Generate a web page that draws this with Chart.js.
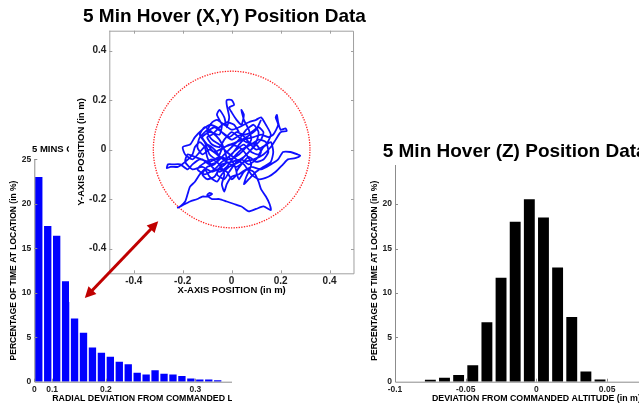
<!DOCTYPE html>
<html>
<head>
<meta charset="utf-8">
<script src="https://cdn.jsdelivr.net/npm/chart.js@4.4.1/dist/chart.umd.min.js"></script>
<style>
html, body { margin: 0; padding: 0; background: #fff; }
body { width: 639px; height: 406px; position: relative; overflow: hidden; }
.panel { position: absolute; overflow: hidden; }
#radialBox { left: 0; top: 135px; width: 232px; height: 271px; z-index: 1; }
#altBox { left: 360px; top: 135px; width: 279px; height: 271px; z-index: 1; }
#xyBox { left: 69px; top: 0; width: 300px; height: 302px; z-index: 2; }
</style>
</head>
<body>
<div class="panel" id="radialBox"><canvas id="radialChart" width="320" height="271"></canvas></div>
<div class="panel" id="altBox"><canvas id="altChart" width="330" height="271"></canvas></div>
<div class="panel" id="xyBox"><canvas id="xyChart" width="300" height="302"></canvas></div>
<script>
// radial deviation histogram, equal-area bins (x axis runs in r^2)
const radialBinCenters = [0.0025, 0.0075, 0.0125, 0.0175, 0.0225, 0.0275, 0.0325, 0.0375, 0.0425, 0.0475,
    0.0525, 0.0575, 0.0625, 0.0675, 0.0725, 0.0775, 0.0825, 0.0875, 0.0925, 0.0975, 0.1025];
const radialPercent = [23.0, 17.5, 16.4, 11.3, 7.1, 5.5, 3.85, 3.25, 2.8, 2.25,
    1.95, 1.0, 0.8, 1.3, 0.9, 0.8, 0.65, 0.37, 0.25, 0.25, 0.15];
const radialTickValues = [0, 0.1, 0.2, 0.3];
const radialTickLabels = ['0', '0.1', '0.2', '0.3'];

// altitude (Z) deviation histogram
const altitudeBins = [-0.075, -0.065, -0.055, -0.045, -0.035, -0.025, -0.015, -0.005, 0.005, 0.015, 0.025, 0.035, 0.045];
const altitudePercent = [0.22, 0.45, 0.75, 1.85, 6.7, 11.7, 18.0, 20.55, 18.5, 12.85, 7.3, 1.15, 0.25];
const altitudeTicks = [-0.1, -0.05, 0, 0.05, 0.1];
const percentTicks = [0, 5, 10, 15, 20, 25];

// (X,Y) hover track, in m
const hoverX = [0.12, 0.10, 0.06, 0.02, -0.03, -0.07, -0.10, -0.12, -0.09, -0.05,
    -0.04, -0.06, -0.05, -0.03, -0.02, -0.01, -0.02, -0.02, 0.00, 0.01,
    -0.01, 0.00, 0.02, 0.04, 0.05, 0.04, 0.05, 0.07, 0.08, 0.06,
    0.03, -0.01, -0.05, -0.09, -0.13, -0.16, -0.18, -0.21, -0.24, -0.26,
    -0.265, -0.25, -0.22, -0.19, -0.16, -0.15, -0.13, -0.11, -0.10, -0.08,
    -0.05, -0.02, 0.01, 0.04, 0.08, 0.11, 0.14, 0.15, 0.13, 0.10,
    0.07, 0.04, 0.02, 0.03, 0.05, 0.08, 0.12, 0.16, 0.19, 0.21,
    0.24, 0.27, 0.28, 0.26, 0.23, 0.21, 0.18, 0.15, 0.11, 0.08,
    0.05, 0.02, -0.02, -0.05, -0.08, -0.10, -0.07, -0.04, -0.01, 0.02,
    0.05, 0.08, 0.11, 0.13, 0.12, 0.09, 0.06, 0.03, -0.01, -0.04,
    -0.06, -0.09, -0.11, -0.13, -0.15, -0.17, -0.18, -0.19, -0.21, -0.22,
    -0.20, -0.17, -0.14, -0.12, -0.10, -0.08, -0.09, -0.10, -0.08, -0.05,
    -0.02, 0.01, 0.04, 0.07, 0.10, 0.13, 0.16, 0.155, 0.14, 0.12,
    0.11, 0.09, 0.06, 0.03, 0.00, -0.02, -0.03, -0.04, -0.03, -0.05,
    -0.08, -0.12, -0.14, -0.11, -0.07, -0.04, 0.00, 0.03, 0.05, 0.09,
    0.12, 0.15, 0.17, 0.19, 0.18, 0.185, 0.19, 0.20, 0.22, 0.225,
    0.20, 0.18, 0.16, 0.13, 0.09, 0.05, 0.02, -0.02, -0.06, -0.09,
    -0.12, -0.14, -0.13, -0.10, -0.08, -0.06, -0.03, 0.00, 0.03, 0.07,
    0.10, 0.12, 0.14, 0.16, 0.14, 0.10, 0.07, 0.04, 0.00, -0.03,
    -0.06, -0.09, -0.12, -0.15, -0.17, -0.20, -0.19, -0.16, -0.13, -0.10,
    -0.07, -0.05, -0.07, -0.10, -0.12, -0.10, -0.07, -0.05, -0.02, 0.00,
    0.02, 0.01, -0.01, 0.02, 0.05, 0.08, 0.11, 0.13, 0.16, 0.17,
    0.16, 0.13, 0.10, 0.07, 0.05, 0.06, 0.08, 0.06, 0.03, -0.01,
    -0.04, -0.06, -0.09, -0.11, -0.13, -0.11, -0.08, -0.05, -0.03, -0.02,
    -0.04, -0.08, -0.12, -0.16, -0.19, -0.18, -0.15, -0.12, -0.09, -0.06,
    -0.03, 0.00, 0.03, 0.06, 0.09, 0.11, 0.10, 0.08, 0.05, 0.02,
    -0.01, -0.03, -0.06, -0.04, 0.00, 0.04, 0.07, 0.10, 0.12, 0.10,
    0.06, 0.03, 0.00, -0.03, -0.05, -0.08, -0.10, -0.08, -0.05, -0.02,
    0.01, 0.03];
const hoverY = [0.12, 0.08, 0.05, 0.03, 0.01, -0.01, 0.02, 0.05, 0.07, 0.06,
    0.10, 0.14, 0.16, 0.13, 0.09, 0.13, 0.18, 0.20, 0.20, 0.18,
    0.17, 0.15, 0.12, 0.10, 0.14, 0.16, 0.12, 0.08, 0.04, 0.01,
    -0.02, -0.04, -0.03, -0.05, -0.04, -0.06, -0.08, -0.06, -0.06, -0.06,
    -0.075, -0.07, -0.07, -0.05, -0.02, 0.01, 0.03, 0.01, -0.03, -0.07,
    -0.09, -0.07, -0.03, 0.00, 0.02, 0.04, 0.03, -0.01, -0.04, -0.05,
    -0.03, -0.06, -0.09, -0.12, -0.09, -0.07, -0.08, -0.06, -0.04, -0.01,
    -0.01, -0.02, -0.025, -0.035, -0.04, -0.06, -0.09, -0.11, -0.12, -0.10,
    -0.06, -0.04, -0.01, 0.02, 0.04, 0.07, 0.09, 0.07, 0.05, 0.07,
    0.06, 0.07, 0.09, 0.07, 0.04, 0.01, -0.02, -0.05, -0.07, -0.10,
    -0.13, -0.11, -0.08, -0.10, -0.13, -0.15, -0.18, -0.21, -0.23, -0.235,
    -0.225, -0.21, -0.20, -0.19, -0.19, -0.18, -0.175, -0.185, -0.20, -0.20,
    -0.21, -0.22, -0.23, -0.25, -0.24, -0.23, -0.245, -0.22, -0.19, -0.16,
    -0.13, -0.09, -0.08, -0.10, -0.11, -0.14, -0.17, -0.14, -0.10, -0.06,
    -0.04, -0.06, -0.08, -0.10, -0.08, -0.05, -0.02, 0.02, 0.04, 0.05,
    0.06, 0.05, 0.06, 0.10, 0.13, 0.14, 0.11, 0.08, 0.085, 0.075,
    0.07, 0.04, 0.01, -0.02, -0.04, -0.05, -0.07, -0.05, -0.02, 0.00,
    -0.02, 0.01, 0.05, 0.08, 0.11, 0.12, 0.10, 0.08, 0.09, 0.11,
    0.12, 0.13, 0.10, 0.06, 0.02, 0.00, 0.03, 0.06, 0.04, 0.06,
    0.09, 0.10, 0.08, 0.05, 0.02, 0.01, -0.02, -0.04, -0.01, 0.02,
    0.00, -0.03, -0.06, -0.07, -0.10, -0.12, -0.11, -0.08, -0.09, -0.12,
    -0.10, -0.06, -0.03, 0.00, 0.02, -0.01, -0.02, 0.01, 0.03, -0.01,
    -0.05, -0.07, -0.09, -0.12, -0.14, -0.11, -0.06, -0.02, 0.01, 0.02,
    0.00, -0.04, -0.02, 0.03, 0.06, 0.09, 0.07, 0.04, 0.00, -0.05,
    -0.07, -0.09, -0.07, -0.08, -0.05, -0.02, -0.03, -0.04, -0.06, -0.05,
    -0.02, 0.01, 0.04, 0.08, 0.10, 0.07, 0.03, 0.00, -0.03, -0.05,
    -0.09, -0.12, -0.10, -0.06, -0.05, -0.04, -0.06, -0.04, -0.01, 0.02,
    0.03, 0.05, 0.07, 0.04, 0.01, 0.02, 0.05, 0.06, 0.09, 0.11,
    0.10, 0.07];
const xyTicks = [-0.4, -0.2, 0, 0.2, 0.4];
const targetRadius = 0.32;
const arrowFrom = [-0.6, -0.6];
const arrowTo = [-0.3, -0.29];

Chart.defaults.font.family = '"Liberation Sans", Arial, sans-serif';
Chart.defaults.color = '#222';

// matlab style axes: grey lines, small ticks pointing inwards
const matlabAxes = {
    id: 'matlabAxes',
    afterDatasetsDraw(chart, args, opts) {
        const ctx = chart.ctx;
        const a = chart.chartArea;
        const x = chart.scales.x, y = chart.scales.y;
        const len = 3;
        ctx.save();
        ctx.strokeStyle = opts.color || '#8c8c8c';
        ctx.lineWidth = 1;
        ctx.beginPath();
        ctx.moveTo(a.left + 0.5, a.top);
        ctx.lineTo(a.left + 0.5, a.bottom + 0.5);
        ctx.lineTo(a.right, a.bottom + 0.5);
        if (opts.box) {
            ctx.lineTo(a.right - 0.5, a.top + 0.5);
            ctx.lineTo(a.left, a.top + 0.5);
        }
        x.ticks.forEach(function(t) {
            const px = Math.round(x.getPixelForValue(t.value)) + 0.5;
            if (px < a.left || px > a.right) return;
            ctx.moveTo(px, a.bottom);
            ctx.lineTo(px, a.bottom - len);
            if (opts.box) { ctx.moveTo(px, a.top); ctx.lineTo(px, a.top + len); }
        });
        y.ticks.forEach(function(t) {
            const py = Math.round(y.getPixelForValue(t.value)) + 0.5;
            if (py < a.top || py > a.bottom) return;
            ctx.moveTo(a.left, py);
            ctx.lineTo(a.left + len, py);
            if (opts.box) { ctx.moveTo(a.right, py); ctx.lineTo(a.right - len, py); }
        });
        ctx.stroke();
        ctx.restore();
    }
};

// panel headings, placed relative to the canvas
const panelTitle = {
    id: 'panelTitle',
    afterDraw(chart, args, opts) {
        if (!opts.text) return;
        const ctx = chart.ctx;
        ctx.save();
        ctx.font = 'bold ' + opts.size + 'px "Liberation Sans", Arial, sans-serif';
        ctx.textBaseline = 'middle';
        const w = ctx.measureText(opts.text).width;
        if (opts.background) {
            ctx.fillStyle = '#fff';
            ctx.fillRect(opts.x - 2, opts.y - opts.size * 0.75, w + 4, opts.size * 1.45);
        }
        ctx.fillStyle = '#000';
        ctx.fillText(opts.text, opts.x, opts.y);
        ctx.restore();
    }
};

// white sheet, red target circle and the red double arrow for the (X,Y) panel
const xyExtras = {
    id: 'xyExtras',
    beforeDraw(chart) {
        const ctx = chart.ctx;
        ctx.save();
        ctx.fillStyle = '#fff';
        ctx.fillRect(0, 0, chart.width, chart.height);
        ctx.restore();
    },
    beforeDatasetsDraw(chart) {
        const ctx = chart.ctx;
        const x = chart.scales.x, y = chart.scales.y;
        const cx = x.getPixelForValue(0), cy = y.getPixelForValue(0);
        const r = x.getPixelForValue(targetRadius) - cx;
        ctx.save();
        ctx.strokeStyle = '#ff2020';
        ctx.lineWidth = 1.3;
        ctx.setLineDash([1.3, 1.3]);
        ctx.beginPath();
        ctx.arc(cx, cy, r, 0, Math.PI * 2);
        ctx.stroke();
        ctx.restore();
    },
    afterDraw(chart) {
        const ctx = chart.ctx;
        const x = chart.scales.x, y = chart.scales.y;
        const x1 = x.getPixelForValue(arrowFrom[0]), y1 = y.getPixelForValue(arrowFrom[1]);
        const x2 = x.getPixelForValue(arrowTo[0]), y2 = y.getPixelForValue(arrowTo[1]);
        const ang = Math.atan2(y2 - y1, x2 - x1);
        const head = 11, half = 5.5;
        ctx.save();
        ctx.strokeStyle = '#c00000';
        ctx.fillStyle = '#c00000';
        ctx.lineWidth = 3;
        ctx.beginPath();
        ctx.moveTo(x1 + Math.cos(ang) * head * 0.8, y1 + Math.sin(ang) * head * 0.8);
        ctx.lineTo(x2 - Math.cos(ang) * head * 0.8, y2 - Math.sin(ang) * head * 0.8);
        ctx.stroke();
        function arrowHead(tx, ty, a) {
            ctx.beginPath();
            ctx.moveTo(tx, ty);
            ctx.lineTo(tx - Math.cos(a) * head + Math.sin(a) * half, ty - Math.sin(a) * head - Math.cos(a) * half);
            ctx.lineTo(tx - Math.cos(a) * head - Math.sin(a) * half, ty - Math.sin(a) * head + Math.cos(a) * half);
            ctx.closePath();
            ctx.fill();
        }
        arrowHead(x2, y2, ang);
        arrowHead(x1, y1, ang + Math.PI);
        ctx.restore();
    }
};

function histogramOptions(cfg) {
    return {
        responsive: false,
        animation: false,
        devicePixelRatio: 1,
        events: [],
        layout: { padding: { top: cfg.top, right: cfg.right, left: 0, bottom: 0 } },
        plugins: {
            legend: { display: false },
            tooltip: { enabled: false },
            matlabAxes: { box: false },
            panelTitle: cfg.title
        },
        scales: {
            x: {
                type: 'linear',
                min: cfg.xMin,
                max: cfg.xMax,
                offset: false,
                afterFit: function(s) { s.height = cfg.xHeight; },
                afterBuildTicks: function(s) { s.ticks = cfg.xTicks.map(function(v) { return { value: v }; }); },
                grid: { display: false, drawTicks: false },
                border: { display: false },
                ticks: { autoSkip: false, maxRotation: 0, padding: 3, font: { size: 8.5, weight: 'bold' }, callback: cfg.xLabel },
                title: { display: true, text: cfg.xTitle, color: '#000', font: { size: 8.8, weight: 'bold' }, padding: { top: 0, bottom: 2.6 } }
            },
            y: {
                min: 0,
                max: 25,
                afterFit: function(s) { s.width = cfg.yWidth; },
                afterBuildTicks: function(s) { s.ticks = cfg.yTicks.map(function(v) { return { value: v }; }); },
                grid: { display: false, drawTicks: false },
                border: { display: false },
                ticks: { autoSkip: false, padding: 3, font: { size: 8.5, weight: 'bold' }, callback: function(v) { return String(v); } },
                title: { display: true, text: 'PERCENTAGE OF TIME AT LOCATION (in %)', color: '#000', font: { size: 8.5, weight: 'bold' }, padding: { top: cfg.yTitlePad, bottom: 0 } }
            }
        }
    };
}

new Chart(document.getElementById('radialChart'), {
    type: 'bar',
    data: {
        datasets: [{
            data: radialBinCenters.map(function(c, i) { return { x: c, y: radialPercent[i] }; }),
            backgroundColor: '#0000ff',
            barPercentage: 0.82,
            categoryPercentage: 1
        }]
    },
    options: histogramOptions({
        top: 24.3, right: 3, xHeight: 24.3, yWidth: 34.3, yTitlePad: 8.9,
        xMin: 0, xMax: 0.158,
        xTicks: radialTickValues.map(function(r) { return r * r; }),
        xLabel: function(v, i) { return radialTickLabels[i]; },
        yTicks: percentTicks,
        xTitle: 'RADIAL DEVIATION FROM COMMANDED LOCATION (in m)',
        title: { text: '5 MINS OF HOVER', size: 9.5, x: 32, y: 14 }
    }),
    plugins: [matlabAxes, panelTitle]
});

new Chart(document.getElementById('altChart'), {
    type: 'bar',
    data: {
        datasets: [{
            data: altitudeBins.map(function(c, i) { return { x: c, y: altitudePercent[i] }; }),
            backgroundColor: '#000000',
            barPercentage: 0.77,
            categoryPercentage: 1
        }]
    },
    options: histogramOptions({
        top: 24.7, right: 12.2, xHeight: 24.3, yWidth: 35, yTitlePad: 9.9,
        xMin: -0.1, xMax: 0.1,
        xTicks: altitudeTicks,
        xLabel: function(v) { return String(v); },
        yTicks: percentTicks.slice(0, 5),
        xTitle: 'DEVIATION FROM COMMANDED ALTITUDE (in m)',
        title: { text: '5 Min Hover (Z) Position Data', size: 19, x: 22.7, y: 16.7, background: true }
    }),
    plugins: [matlabAxes, panelTitle]
});

new Chart(document.getElementById('xyChart'), {
    type: 'scatter',
    data: {
        datasets: [{
            data: hoverX.map(function(v, i) { return { x: v, y: hoverY[i] }; }),
            showLine: true,
            pointRadius: 0,
            borderColor: '#0f0fff',
            borderWidth: 1.8,
            tension: 0.2
        }]
    },
    options: {
        responsive: false,
        animation: false,
        devicePixelRatio: 1,
        events: [],
        layout: { padding: { top: 30.7, right: 15, left: 0, bottom: 0 } },
        plugins: {
            legend: { display: false },
            tooltip: { enabled: false },
            matlabAxes: { box: true, color: '#a0a0a0' },
            panelTitle: { text: '5 Min Hover (X,Y) Position Data', size: 19, x: 14, y: 16.5 }
        },
        scales: {
            x: {
                type: 'linear',
                min: -0.5,
                max: 0.5,
                afterFit: function(s) { s.height = 28.7; },
                afterBuildTicks: function(s) { s.ticks = xyTicks.map(function(v) { return { value: v }; }); },
                grid: { display: false, drawTicks: false },
                border: { display: false },
                ticks: { autoSkip: false, maxRotation: 0, padding: 2, font: { size: 10, weight: 'bold' }, callback: function(v) { return String(v); } },
                title: { display: true, text: 'X-AXIS POSITION (in m)', color: '#000', font: { size: 9.5, weight: 'bold' }, padding: { top: 0, bottom: 5.6 } }
            },
            y: {
                type: 'linear',
                min: -0.5,
                max: 0.48,
                afterFit: function(s) { s.width = 40.3; },
                afterBuildTicks: function(s) { s.ticks = xyTicks.map(function(v) { return { value: v }; }); },
                grid: { display: false, drawTicks: false },
                border: { display: false },
                ticks: { autoSkip: false, padding: 3, font: { size: 10, weight: 'bold' }, callback: function(v) { return String(v); } },
                title: { display: true, text: 'Y-AXIS POSITION (in m)', color: '#000', font: { size: 9.5, weight: 'bold' }, padding: { top: 6.7, bottom: 0 } }
            }
        }
    },
    plugins: [xyExtras, matlabAxes, panelTitle]
});
</script>
</body>
</html>
